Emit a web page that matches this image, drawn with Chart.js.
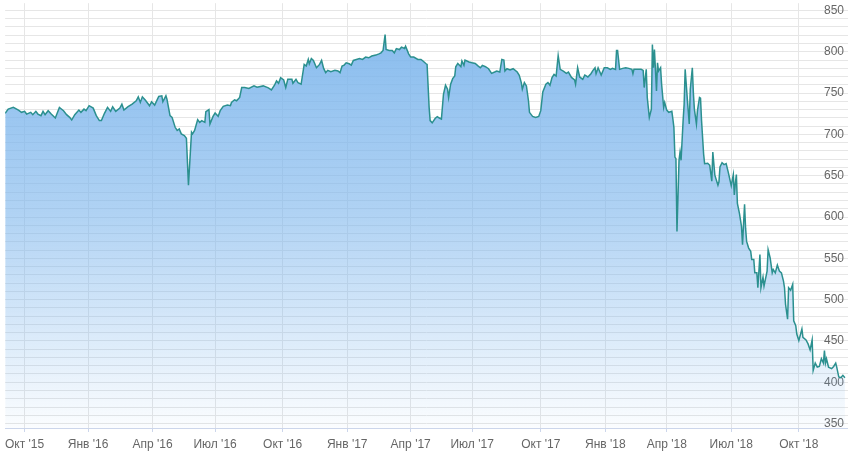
<!DOCTYPE html>
<html lang="ru">
<head>
<meta charset="utf-8">
<title>Котировки</title>
<script src="https://cdn.jsdelivr.net/npm/chart.js@4.4.1/dist/chart.umd.min.js"></script>
<style>
    html, body { margin: 0; padding: 0; background: #ffffff; }
    #chart { display: block; }
</style>
</head>
<body>
<canvas id="chart" width="848" height="451"></canvas>
<script>
// trading session number (ordinal axis, weekends/holidays skipped), counted from first point
const sessions = [
    0, 3, 8, 13, 16, 19, 21, 25, 27, 30, 32, 35, 37, 39, 42, 45, 49, 53, 57, 60, 63, 65, 68, 72, 74, 77, 79,
    82, 86, 89, 92, 94, 97, 100, 103, 105, 108, 112, 114, 116, 120, 124, 128, 130, 132, 134, 137, 141,
    143, 146, 150, 153, 154, 157, 158, 161, 163, 166, 168, 170, 172, 175, 177, 179, 182, 183, 185, 188, 190, 192, 195, 196, 199, 200, 203,
    205, 208, 210, 213, 217, 220, 221, 224, 226, 229, 231, 234, 238, 243, 246, 252, 257, 260, 263, 265, 267, 269,
    272, 274, 276, 280, 281, 284, 286, 289, 292, 294, 296, 297, 299, 301, 304, 307, 309, 311, 313, 315, 318, 322, 325, 327, 329, 331, 333,
    336, 338, 340, 343, 346, 349, 352, 355, 358, 362, 365, 367, 369, 371, 372, 375, 378, 380, 382, 385, 387, 390, 391, 394,
    396, 399, 403, 406, 408, 411, 412, 414, 415, 417, 420, 422, 424, 426, 428, 430, 432, 433, 435, 437, 439, 440, 442, 445, 446, 448, 449, 453,
    456, 459, 462, 464, 466, 469, 472, 475, 478, 480, 483, 485, 487, 488, 490, 493, 496, 500, 502, 504, 505, 507, 509, 511, 512, 515, 518, 521,
    523, 525, 528, 530, 532, 534, 536, 538, 540, 542, 545, 548, 550, 553, 556, 557, 559, 561, 564, 566, 569, 572, 574, 576, 577, 579, 582,
    585, 588, 591, 593, 596, 597, 598, 600, 603, 606, 609, 612, 613, 614, 618, 621, 623, 624, 626, 627, 629, 631, 632, 633, 634, 636, 637, 638, 640, 641, 643, 644,
    646, 648, 651, 652, 653, 654, 655, 656, 658, 659, 660, 662, 663, 664, 666, 668, 669, 671, 672, 673, 675, 676, 678, 679, 680, 682, 683, 686, 688, 690, 691, 693, 696, 697, 698, 700, 702, 704, 706,
    709, 711, 712, 713, 714, 715, 717, 719, 720, 722, 723, 724, 726, 728, 729, 731, 732, 734, 735, 737, 738, 740, 741, 744, 745, 747, 749, 750, 752, 754, 756, 758, 760, 761, 762, 764, 765, 767, 769, 770, 772, 773,
    775, 778, 779, 782, 784, 786, 788, 789, 791, 793, 795, 797, 799, 800, 801, 802, 804, 807, 809, 811, 812, 814, 816, 818, 820
];

const prices = [
    725.5, 730.6, 732.7, 729.4, 726.7, 727.9, 724.6, 726.7, 723.9, 727.9, 724.6, 722.7, 727.9, 723.9, 728.7, 724.6, 719.8, 732.7, 728.7, 723.9, 720.6, 717.4, 723.9, 729.4, 726.7, 730.6, 728.7,
    734.7, 731.8, 722.7, 716.7, 716.7, 725.5, 732.7, 727.9, 733.5, 727.9, 731.8, 736.6, 729.4, 733.5, 736.6, 740.7, 745.5, 738.7, 745.5, 741.4, 734.7,
    739.5, 735.5, 745.9, 746.7, 739.5, 746.7, 742.7, 722.7, 720.6, 708.6, 704.7, 706.6, 700.6, 698.7, 695.4, 638.6, 702.6, 700.6, 704.7, 717.9, 714.6, 716.7, 714.6, 727.5, 729.9, 712.6, 721.8,
    725.8, 721.8, 728.7, 733.9, 735.5, 734.7, 738.7, 741.9, 740.7, 744.7, 756.7, 756.7, 755.5, 758.7, 757.1, 758.7, 756.3, 753.9, 759.5, 764.7, 761.9, 768.7,
    765.9, 756.7, 766.7, 766.7, 761.9, 766.7, 762.5, 760.7, 784.7, 782.7, 790.7, 785.5, 791.9, 789.5, 780.7, 784.7, 789.5, 779.9, 774.7, 777.5, 775.9, 777.5, 776.7, 774.7, 782.7, 783.9, 786.7,
    785.5, 783.9, 789.5, 790.7, 791.9, 790.7, 793.6, 792.7, 794.8, 796.0, 797.5, 798.7, 801.5, 820.7, 802.7, 801.5, 801.5, 798.7, 803.9, 802.7, 805.6, 803.9, 806.8, 797.5,
    793.6, 793.6, 790.7, 790.7, 788.8, 785.5, 784.7, 732.7, 716.7, 714.0, 719.5, 721.5, 719.8, 718.6, 748.6, 759.5, 754.7, 744.7, 760.7, 767.5, 770.7, 781.9, 785.9, 781.9, 788.8, 783.5, 790.0, 787.6,
    786.7, 785.9, 782.7, 780.7, 783.5, 781.9, 779.5, 773.9, 775.5, 776.7, 775.5, 790.7, 790.0, 776.7, 779.5, 777.9, 779.5, 775.5, 771.5, 762.7, 754.7, 762.7, 758.7, 740.7, 726.7, 721.8, 720.6, 721.8,
    728.7, 751.5, 760.7, 762.7, 759.5, 768.7, 772.7, 770.7, 795.5, 778.7, 776.7, 773.9, 775.5, 769.0, 766.0, 760.7, 780.7, 769.5, 766.7, 771.9, 769.5, 773.5, 777.5, 780.7, 773.5, 780.7, 771.9,
    780.7, 780.7, 778.7, 779.9, 778.7, 801.5, 801.5, 778.7, 779.9, 780.7, 779.9, 778.7, 773.5, 778.7, 778.7, 778.7, 777.5, 756.7, 778.7, 744.7, 720.6, 730.6, 808.7, 780.7, 802.7, 752.7, 786.7, 776.7, 780.7, 760.7, 732.7, 738.7,
    729.4, 726.7, 727.9, 718.6, 708.6, 672.6, 670.6, 582.5, 668.6, 678.6, 668.6, 716.7, 736.6, 778.7, 744.7, 712.6, 754.7, 780.7, 750.7, 730.6, 712.6, 728.7, 744.7, 743.8, 716.7, 676.6, 664.6, 665.0, 662.6, 643.4, 678.6, 650.6, 638.6, 642.6, 660.6, 665.8, 663.4, 664.6, 654.6,
    637.8, 651.3, 626.6, 640.5, 651.3, 616.5, 604.5, 588.5, 566.5, 615.3, 586.5, 570.5, 562.4, 558.5, 548.5, 548.5, 532.4, 532.4, 514.4, 554.5, 514.4, 527.2, 516.4, 534.5, 560.5, 550.4, 532.4, 536.5, 532.4, 541.7, 534.5, 532.4, 522.4, 514.4, 494.4, 476.4, 514.4, 511.3, 518.5, 474.4, 468.4, 458.4,
    450.4, 464.4, 454.3, 451.2, 446.4, 439.2, 451.2, 414.3, 423.1, 418.3, 419.1, 428.4, 423.1, 438.4, 423.1, 428.4, 418.3, 416.4, 419.1, 423.1, 418.3, 406.3, 405.5, 408.3, 405.5
];

// first session of each quarter and its label
const tickSessions = [19, 81, 144, 205, 271, 334, 396, 456, 523, 586, 646, 709, 775];
const tickLabels = ["Окт '15", "Янв '16", "Апр '16", "Июл '16", "Окт '16", "Янв '17", "Апр '17", "Июл '17", "Окт '17", "Янв '18", "Апр '18", "Июл '18", "Окт '18"];

const points = sessions.map((s, i) => ({ x: s, y: prices[i] }));

function areaGradient(context) {
    const chart = context.chart;
    const area = chart.chartArea;
    if (!area) {
        return 'rgba(124, 181, 236, 0.6)';
    }
    const g = chart.ctx.createLinearGradient(0, area.top, 0, area.bottom);
    g.addColorStop(0, 'rgba(124, 181, 236, 0.95)');
    g.addColorStop(0.5, 'rgba(124, 181, 236, 0.6)');
    g.addColorStop(1, 'rgba(124, 181, 236, 0.03)');
    return g;
}

Chart.defaults.font.family = "'Liberation Sans', Arial, sans-serif";
Chart.defaults.font.size = 12;
Chart.defaults.color = '#666666';

const ctx = document.getElementById('chart').getContext('2d');
const chart = new Chart(ctx, {
    type: 'line',
    data: {
        datasets: [{
            label: 'Цена',
            data: points,
            borderColor: '#2b908f',
            borderWidth: 1.5,
            backgroundColor: areaGradient,
            fill: 'start',
            pointRadius: 0,
            tension: 0
        }]
    },
    options: {
        responsive: false,
        animation: false,
        layout: { padding: 0, autoPadding: false },
        plugins: {
            legend: { display: false },
            tooltip: { enabled: false }
        },
        scales: {
            x: {
                type: 'linear',
                min: 0,
                max: 823,
                afterBuildTicks: function (scale) {
                    scale.ticks = tickSessions.map(v => ({ value: v }));
                },
                afterFit: function (scale) {
                    scale.height = 23;
                },
                ticks: {
                    autoSkip: false,
                    maxRotation: 0,
                    padding: 5,
                    callback: function (value, index) {
                        return tickLabels[index];
                    }
                },
                grid: {
                    color: '#e6e6e6',
                    tickColor: '#ccd6eb',
                    tickLength: 4
                },
                border: { display: true, color: '#ccd6eb' }
            },
            y: {
                position: 'right',
                min: 344.6,
                max: 858.8,
                afterFit: function (scale) {
                    scale.width = 0;
                },
                ticks: {
                    stepSize: 10,
                    includeBounds: false,
                    autoSkip: false,
                    mirror: true,
                    padding: -4,
                    callback: function (value) {
                        return value % 50 === 0 ? value : '';
                    }
                },
                grid: {
                    color: '#e6e6e6',
                    drawTicks: false
                },
                border: { display: false }
            }
        }
    }
});
</script>
</body>
</html>
